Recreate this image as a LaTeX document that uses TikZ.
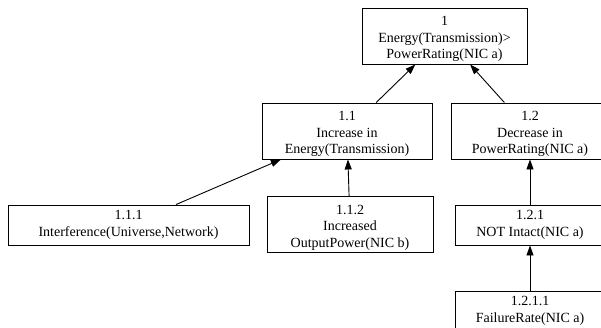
\documentclass[tikz,border=0pt]{standalone}
\usepackage{fontspec}
\setmainfont{Liberation Serif}
\usetikzlibrary{arrows.meta}

\newcommand{\padtop}{\rule{0pt}{15.5pt}}

\tikzset{
  goal/.style={draw, line width=0.9pt, align=center, inner sep=0pt,
    font=\fontsize{14}{16.5}\selectfont},
  tall/.style={goal, minimum height=56},
  flat/.style={goal, minimum height=40},
  link/.style={line width=0.9pt, -{Triangle[length=10pt,width=7pt]}}
}

\begin{document}
\begin{tikzpicture}[x=1pt,y=1pt]
            \useasboundingbox (0,0) rectangle (601,-327);

            \node[tall, minimum width=165] (g1) at (444.5,-36) {\padtop 1\\Energy(Transmission)>\\PowerRating(NIC a)};

            \node[tall, minimum width=170] (g11) at (347,-131) {\padtop 1.1\\Increase in\\Energy(Transmission)};
            \node[tall, minimum width=158] (g12) at (530,-131) {\padtop 1.2\\Decrease in\\PowerRating(NIC a)};

            \node[flat, minimum width=241] (g111) at (128.5,-225) {1.1.1\\Interference(Universe,Network)};
            \node[tall, minimum width=166] (g112) at (350,-224.5) {\padtop 1.1.2\\Increased\\OutputPower(NIC b)};
            \node[flat, minimum width=150] (g121) at (530,-225) {1.2.1\\NOT Intact(NIC a)};

            \node[flat, minimum width=150] (g1211) at (530,-311) {1.2.1.1\\FailureRate(NIC a)};

            \draw[link] (g11) -- (g1);
            \draw[link] (g12) -- (g1);
            \draw[link] (g111) -- (g11);
            \draw[link] (g112) -- (g11);
            \draw[link] (g121) -- (g12);
            \draw[link] (g1211) -- (g121);
        \end{tikzpicture}
\end{document}
